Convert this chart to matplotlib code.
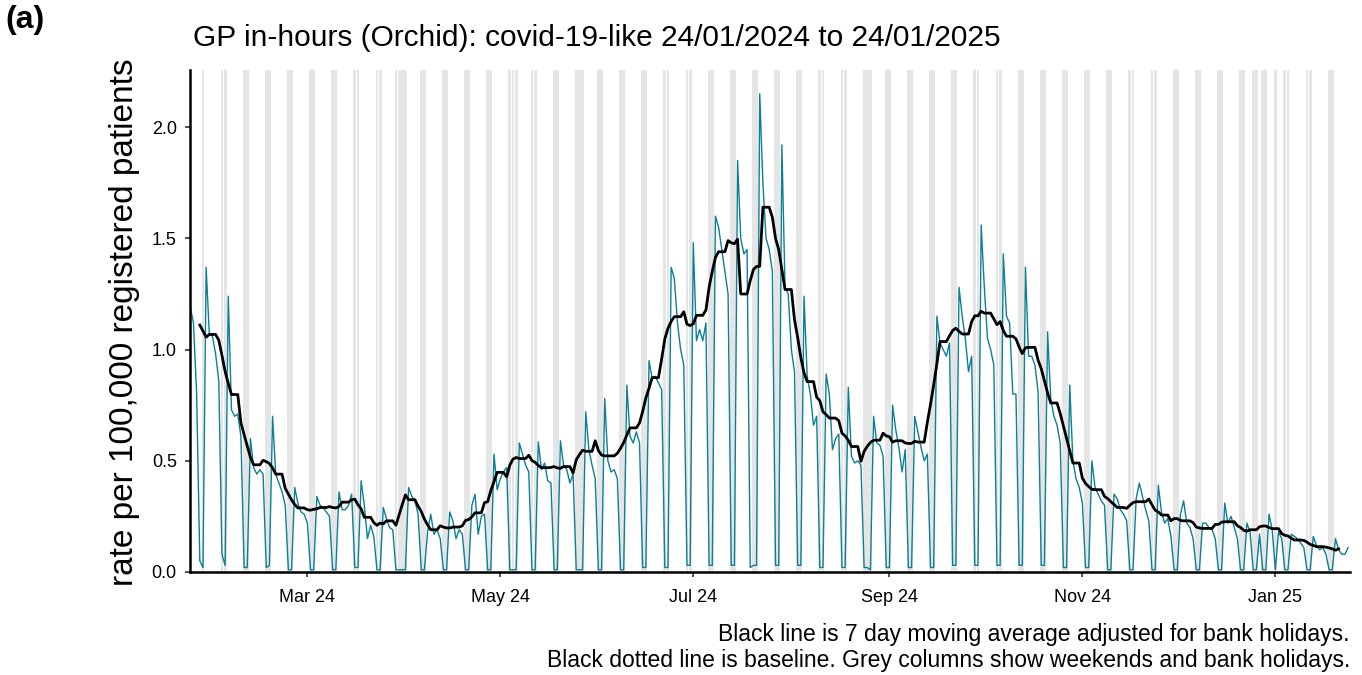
import datetime as dt
import numpy as np
import matplotlib
matplotlib.use("Agg")
import matplotlib.pyplot as plt
import matplotlib.dates as mdates

plt.rcParams['font.family'] = ['Liberation Sans', 'DejaVu Sans']

start_date = dt.date(2024, 1, 24)
end_date = dt.date(2025, 1, 24)
shade_from = dt.date(2024, 1, 28)   # first grey column in the reference

bank_holidays = ["2024-03-29", "2024-04-01", "2024-05-06", "2024-05-27",
                 "2024-08-26", "2024-12-25", "2024-12-26", "2025-01-01"]

# daily rate per 100,000, grouped by week (first/last weeks partial)
week_00 = [1.19, 1.12, 0.80, 0.05, 0.02]                 # Wed 24 Jan - Sun 28 Jan
week_01 = [1.37, 1.07, 1.06, 0.98, 0.86, 0.08, 0.03]     # Mon 29 Jan
week_02 = [1.24, 0.73, 0.70, 0.71, 0.61, 0.02, 0.02]
week_03 = [0.60, 0.47, 0.44, 0.46, 0.44, 0.02, 0.03]
week_04 = [0.70, 0.44, 0.40, 0.36, 0.30, 0.01, 0.01]
week_05 = [0.38, 0.31, 0.27, 0.26, 0.22, 0.01, 0.01]
week_06 = [0.34, 0.30, 0.29, 0.27, 0.25, 0.01, 0.01]
week_07 = [0.36, 0.28, 0.28, 0.30, 0.35, 0.02, 0.02]
week_08 = [0.41, 0.30, 0.15, 0.21, 0.16, 0.01, 0.01]
week_09 = [0.29, 0.24, 0.20, 0.19, 0.01, 0.01, 0.01]
week_10 = [0.01, 0.38, 0.34, 0.32, 0.26, 0.01, 0.01]
week_11 = [0.18, 0.26, 0.17, 0.19, 0.15, 0.01, 0.01]
week_12 = [0.27, 0.23, 0.15, 0.19, 0.17, 0.01, 0.01]
week_13 = [0.30, 0.35, 0.17, 0.25, 0.26, 0.01, 0.01]
week_14 = [0.53, 0.37, 0.42, 0.45, 0.47, 0.01, 0.01]
week_15 = [0.01, 0.58, 0.53, 0.48, 0.45, 0.01, 0.01]
week_16 = [0.585, 0.46, 0.49, 0.41, 0.40, 0.01, 0.01]
week_17 = [0.59, 0.48, 0.46, 0.40, 0.44, 0.01, 0.01]
week_18 = [0.01, 0.72, 0.55, 0.48, 0.42, 0.01, 0.01]
week_19 = [0.78, 0.50, 0.45, 0.46, 0.42, 0.01, 0.01]
week_20 = [0.84, 0.61, 0.58, 0.63, 0.58, 0.02, 0.02]
week_21 = [0.95, 0.87, 0.88, 0.85, 0.82, 0.02, 0.02]
week_22 = [1.37, 1.32, 1.12, 1.00, 0.93, 0.03, 0.03]
week_23 = [1.48, 1.04, 1.09, 1.04, 1.12, 0.03, 0.03]
week_24 = [1.60, 1.55, 1.45, 1.35, 1.25, 0.03, 0.03]
week_25 = [1.85, 1.50, 1.43, 1.45, 0.02, 0.03, 0.03]
week_26 = [2.15, 1.75, 1.50, 1.45, 1.35, 0.03, 0.03]
week_27 = [1.92, 1.28, 1.25, 1.00, 0.90, 0.03, 0.03]
week_28 = [1.24, 0.88, 0.80, 0.66, 0.70, 0.02, 0.02]
week_29 = [0.89, 0.80, 0.55, 0.60, 0.62, 0.02, 0.02]
week_30 = [0.83, 0.52, 0.49, 0.50, 0.48, 0.02, 0.02]
week_31 = [0.01, 0.70, 0.58, 0.57, 0.52, 0.02, 0.02]
week_32 = [0.75, 0.64, 0.56, 0.45, 0.55, 0.02, 0.02]
week_33 = [0.70, 0.63, 0.56, 0.50, 0.53, 0.02, 0.02]
week_34 = [1.15, 1.03, 1.00, 0.97, 1.03, 0.03, 0.03]
week_35 = [1.28, 1.15, 1.05, 0.90, 0.97, 0.03, 0.03]
week_36 = [1.56, 1.28, 1.05, 1.00, 0.93, 0.03, 0.03]
week_37 = [1.43, 1.15, 1.12, 0.80, 0.80, 0.03, 0.03]
week_38 = [1.37, 0.97, 0.97, 0.93, 0.81, 0.03, 0.03]
week_39 = [1.08, 0.78, 0.70, 0.66, 0.58, 0.02, 0.02]
week_40 = [0.84, 0.50, 0.42, 0.38, 0.31, 0.02, 0.02]
week_41 = [0.50, 0.38, 0.35, 0.32, 0.30, 0.01, 0.01]
week_42 = [0.35, 0.33, 0.28, 0.26, 0.23, 0.01, 0.01]
week_43 = [0.33, 0.40, 0.34, 0.28, 0.23, 0.01, 0.01]
week_44 = [0.39, 0.27, 0.22, 0.24, 0.16, 0.01, 0.01]
week_45 = [0.26, 0.32, 0.22, 0.20, 0.15, 0.01, 0.01]
week_46 = [0.22, 0.22, 0.20, 0.19, 0.15, 0.01, 0.01]
week_47 = [0.31, 0.22, 0.25, 0.20, 0.15, 0.01, 0.01]
week_48 = [0.22, 0.18, 0.01, 0.01, 0.17, 0.01, 0.01]
week_49 = [0.26, 0.19, 0.01, 0.18, 0.15, 0.01, 0.01]
week_50 = [0.17, 0.16, 0.15, 0.13, 0.11, 0.01, 0.01]
week_51 = [0.16, 0.12, 0.10, 0.11, 0.08, 0.01, 0.01]
week_52 = [0.15, 0.10, 0.08, 0.08, 0.11]                 # Mon 20 Jan - Fri 24 Jan

weeks = [week_00, week_01, week_02, week_03, week_04, week_05, week_06, week_07,
         week_08, week_09, week_10, week_11, week_12, week_13, week_14, week_15,
         week_16, week_17, week_18, week_19, week_20, week_21, week_22, week_23,
         week_24, week_25, week_26, week_27, week_28, week_29, week_30, week_31,
         week_32, week_33, week_34, week_35, week_36, week_37, week_38, week_39,
         week_40, week_41, week_42, week_43, week_44, week_45, week_46, week_47,
         week_48, week_49, week_50, week_51, week_52]

title = "GP in-hours (Orchid): covid-19-like 24/01/2024 to 24/01/2025"
ylabel = "rate per 100,000 registered patients"
caption_1 = "Black line is 7 day moving average adjusted for bank holidays."
caption_2 = "Black dotted line is baseline. Grey columns show weekends and bank holidays."
panel = "(a)"
y_ticks = [0.0, 0.5, 1.0, 1.5, 2.0]
y_ticklabels = ["0.0", "0.5", "1.0", "1.5", "2.0"]
x_tick_dates = ["2024-03-01", "2024-05-01", "2024-07-01", "2024-09-01",
                "2024-11-01", "2025-01-01"]

# ---- build series ----
rate = np.array([v for w in weeks for v in w])
n_days = (end_date - start_date).days + 1
dates = [start_date + dt.timedelta(days=i) for i in range(n_days)]
assert len(rate) == n_days
bh = set(dt.date.fromisoformat(s) for s in bank_holidays)
is_off = np.array([(d.weekday() >= 5) or (d in bh) for d in dates])
shade = np.array([off and d >= shade_from for off, d in zip(is_off, dates)])

# centred 7 day moving average of working days
ma = np.full(n_days, np.nan)
for i in range(3, n_days - 3):
    win = slice(i - 3, i + 4)
    vals = rate[win][~is_off[win]]
    if len(vals):
        ma[i] = vals.mean()

xnum = mdates.date2num(dates)
ytop = 2.257

W, H = 1362, 675
fig = plt.figure(figsize=(W / 100, H / 100), dpi=100)
ax = fig.add_axes([190 / W, 1 - 572 / H, (1350 - 190) / W, (572 - 70) / H])

ax.bar(xnum[shade], ytop, width=0.9, bottom=0, color="#E5E5E5", zorder=0, linewidth=0)
ax.plot(xnum, rate, color="#0A7F95", lw=1.0, zorder=2)
ax.plot(xnum, ma, color="black", lw=2.0, zorder=3)

ax.set_xlim(xnum[0] - 0.1, xnum[-1] + 0.6)
ax.set_ylim(0, ytop)
ax.set_yticks(y_ticks)
ax.set_yticklabels(y_ticklabels)
ax.set_xticks(mdates.date2num([dt.date.fromisoformat(s) for s in x_tick_dates]))
ax.xaxis.set_major_formatter(mdates.DateFormatter("%b %y"))

for s in ["top", "right"]:
    ax.spines[s].set_visible(False)
for s in ["left", "bottom"]:
    ax.spines[s].set_linewidth(1.8)
    ax.spines[s].set_color("black")
ax.tick_params(axis="both", length=3.5, width=1.2, color="#333333",
               labelsize=13, labelcolor="black")
ax.tick_params(axis="x", pad=9)
ax.tick_params(axis="y", pad=6)

fig.text(125 / W, 1 - 322 / H, ylabel, fontsize=24, rotation=90,
         ha="center", va="center")
fig.text(193 / W, 1 - 38 / H, title, fontsize=21.5, ha="left", va="center")
fig.text(5 / W, 1 - 20 / H, panel, fontsize=23, fontweight="bold",
         ha="left", va="center")
fig.text(1350 / W, 1 - 635 / H, caption_1, fontsize=16.5, ha="right", va="center")
fig.text(1350 / W, 1 - 660 / H, caption_2, fontsize=16.5, ha="right", va="center")

fig.savefig("out.png", dpi=100)
